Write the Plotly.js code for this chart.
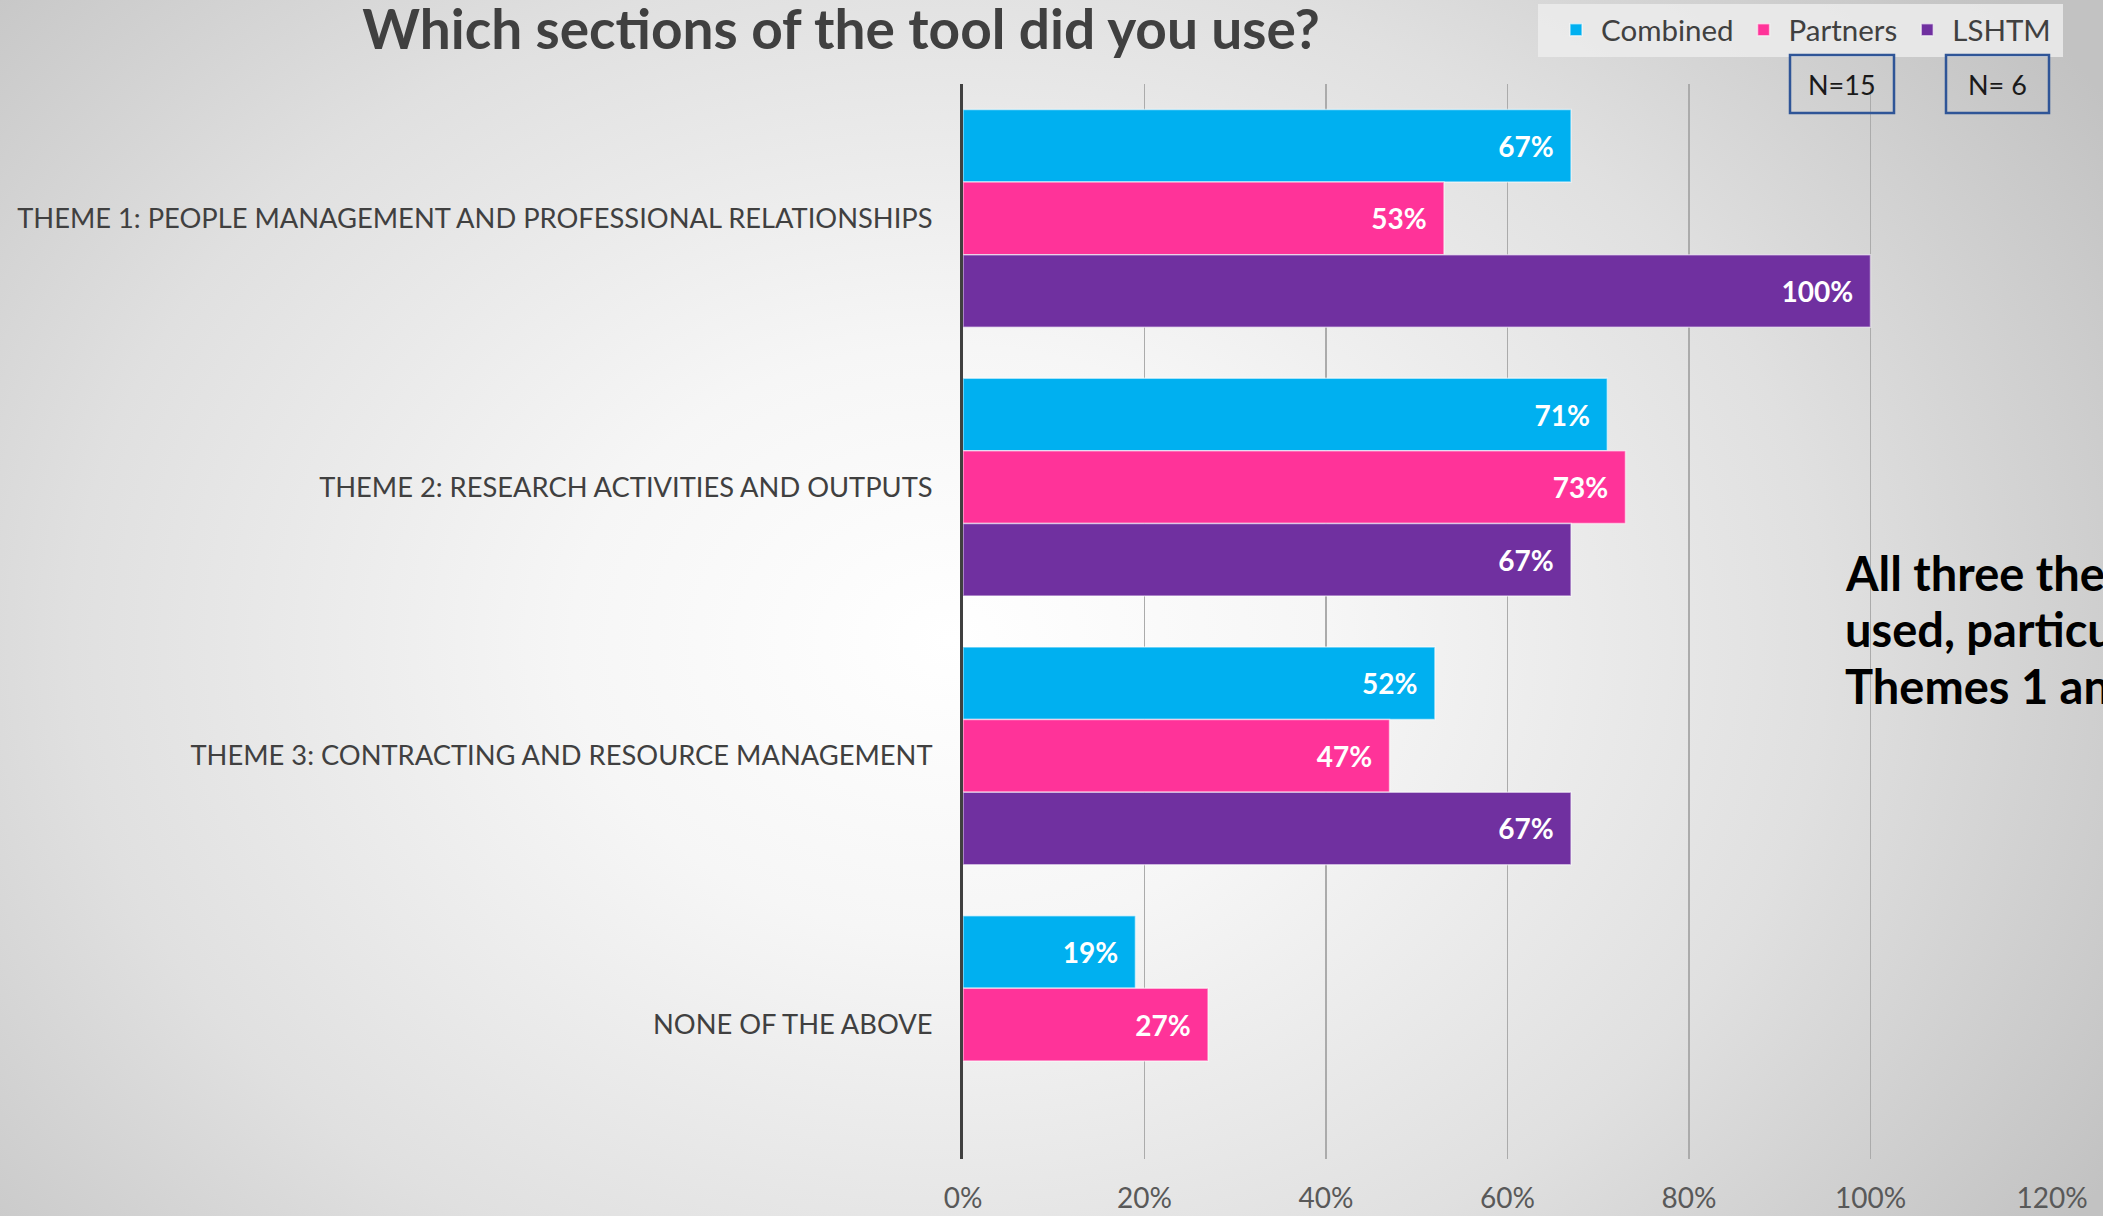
<!DOCTYPE html>
<html>
<head>
<meta charset="utf-8">
<script src="https://cdn.plot.ly/plotly-3.0.1.min.js"></script>
<style>
  html, body { margin: 0; padding: 0; width: 2103px; height: 1216px; overflow: hidden; }
  body { background: radial-gradient(ellipse 1350px 1050px at 950px 640px, #ffffff 0%, #f6f6f6 28%, #e0e0e0 65%, #c2c2c2 100%); }
  #chart { width: 2103px; height: 1216px; }
</style>
</head>
<body>
<div id="chart"></div>
<script>
const categories = [
  "THEME 1: PEOPLE MANAGEMENT AND PROFESSIONAL RELATIONSHIPS",
  "THEME 2: RESEARCH ACTIVITIES AND OUTPUTS",
  "THEME 3: CONTRACTING AND RESOURCE MANAGEMENT",
  "NONE OF THE ABOVE"
];
const combined = [67, 71, 52, 19];
const partners = [53, 73, 47, 27];
const lshtm = [100, 67, 67, null];
const seriesNames = ["Combined", "Partners", "LSHTM"];
const seriesColors = ["#00B0F0", "#FF3399", "#7030A0"];
const tickValues = [0, 20, 40, 60, 80, 100, 120];
const tickLabels = ["0%", "20%", "40%", "60%", "80%", "100%", "120%"];
const titleText = "Which sections of the tool did you use?";
const nLabels = ["N=15", "N= 6"];
const noteLines = ["All three themes were", "used, particularly", "Themes 1 and 2"];

const W = 2103, H = 1216;
const L = 963, R = 51, T = 84, B = 57;
const pw = W - L - R, ph = H - T - B;
const px = v => (v - L) / pw;
const py = v => (H - B - v) / ph;

const FONT = "Lato, 'Open Sans', sans-serif";

const traces = [combined, partners, lshtm].map((vals, i) => ({
  type: "bar",
  orientation: "h",
  name: seriesNames[i],
  y: categories,
  x: vals,
  marker: { color: seriesColors[i], line: { color: "rgba(255,255,255,0.55)", width: 1.5 } },
  text: vals.map(v => v === null ? "" : v + "%"),
  texttemplate: "<b>%{text}</b>\u00a0\u00a0",
  textposition: "inside",
  insidetextanchor: "end",
  textfont: { family: FONT, size: 28, color: "#ffffff" },
  hoverinfo: "skip",
  cliponaxis: false
}));

const boxes = [[1790, 1894], [1946, 2049]];
const shapes = boxes.map(b => ({
  type: "rect", xref: "paper", yref: "paper",
  x0: px(b[0]), x1: px(b[1]), y0: py(113), y1: py(55),
  line: { color: "#2F5597", width: 2.5 }, fillcolor: "rgba(0,0,0,0)"
}));
// legend background panel
shapes.push({
  type: "rect", xref: "paper", yref: "paper", layer: "below",
  x0: px(1538), x1: px(2063), y0: py(57), y1: py(4),
  line: { width: 0 }, fillcolor: "rgba(236,236,236,0.85)"
});

const annotations = boxes.map((b, i) => ({
  xref: "paper", yref: "paper",
  x: px((b[0] + b[1]) / 2), y: py(84),
  xanchor: "center", yanchor: "middle",
  text: nLabels[i], showarrow: false,
  font: { family: FONT, size: 27, color: "#1a1a1a" }
}));
const noteY = [573, 629, 686];
noteLines.forEach((line, i) => annotations.push({
  xref: "paper", yref: "paper",
  x: px(1843), y: py(noteY[i]),
  xanchor: "left", yanchor: "middle", align: "left",
  text: "<b>" + line + "</b>", showarrow: false,
  font: { family: FONT, size: 47, color: "#000000", weight: 900 }
}));

const layout = {
  width: W, height: H,
  margin: { l: L, r: R, t: T, b: B, pad: 0, autoexpand: false },
  paper_bgcolor: "rgba(0,0,0,0)",
  plot_bgcolor: "rgba(0,0,0,0)",
  barmode: "group",
  bargap: 0.19,
  bargroupgap: 0,
  title: {
    text: "<b>" + titleText + "</b>",
    xref: "container", yref: "container",
    x: 841 / W, y: 1 - 30 / H, xanchor: "center", yanchor: "middle",
    font: { family: FONT, size: 55, color: "#404040" },
    automargin: false
  },
  xaxis: {
    range: [0, 120],
    tickvals: tickValues,
    ticktext: tickLabels,
    showgrid: true,
    gridcolor: "#ababab",
    gridwidth: 1.5,
    zeroline: false,
    showline: false,
    ticks: "",
    ticklabelstandoff: 20,
    tickfont: { family: FONT, size: 28, color: "#595959" },
    automargin: false,
    fixedrange: true
  },
  yaxis: {
    autorange: "reversed",
    showline: true,
    linecolor: "#404040",
    linewidth: 3,
    showgrid: false,
    zeroline: false,
    ticks: "",
    ticklabelstandoff: 22,
    tickfont: { family: FONT, size: 27.3, color: "#404040" },
    automargin: false,
    fixedrange: true
  },
  showlegend: true,
  legend: {
    orientation: "h",
    xref: "paper", yref: "paper",
    x: px(1551), y: py(4), xanchor: "left", yanchor: "top",
    bgcolor: "rgba(0,0,0,0)",
    itemwidth: 40,
    font: { family: FONT, size: 29.5, color: "#404040" },
    itemclick: false, itemdoubleclick: false,
    traceorder: "normal"
  },
  shapes: shapes,
  annotations: annotations
};

Plotly.newPlot("chart", traces, layout, { displayModeBar: false, staticPlot: true });
</script>
</body>
</html>
